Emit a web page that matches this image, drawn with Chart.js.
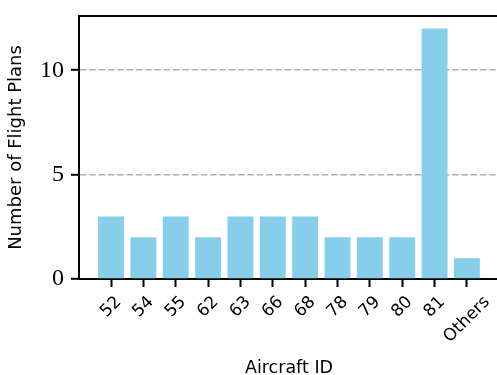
<!DOCTYPE html>
<html>
<head>
<meta charset="utf-8">
<script src="https://cdn.jsdelivr.net/npm/chart.js@4/dist/chart.umd.min.js"></script>
<style>
  html, body { margin: 0; padding: 0; background: #ffffff; }
  canvas { display: block; }
</style>
</head>
<body>
<canvas id="chart" width="497" height="375"></canvas>
<script>
// Flight plans per aircraft
const categories = ['52', '54', '55', '62', '63', '66', '68', '78', '79', '80', '81', 'Others'];
const flightPlans = [3, 2, 3, 2, 3, 3, 3, 2, 2, 2, 12, 1];
const yTicks = [0, 5, 10];
const xTitle = 'Aircraft ID';
const yTitle = 'Number of Flight Plans';

const SANS = '"DejaVu Sans", sans-serif';
const SERIF = '"Liberation Serif", "DejaVu Serif", serif';

// Category positions on a numeric axis so the side margins can be set freely
const points = flightPlans.map((v, i) => ({ x: i, y: v }));

function noPadding(scale) {
  scale.paddingTop = 0;
  scale.paddingBottom = 0;
  scale.paddingLeft = 0;
  scale.paddingRight = 0;
}

const axisText = {
  id: 'axisText',
  afterDraw(chart) {
    const { ctx, chartArea } = chart;
    const xs = chart.scales.x;
    ctx.save();

    // top spine
    ctx.strokeStyle = '#000000';
    ctx.lineWidth = 2;
    ctx.beginPath();
    ctx.moveTo(chartArea.left - 1, chartArea.top);
    ctx.lineTo(chartArea.right, chartArea.top);
    ctx.stroke();

    // rotated category labels, centred under each tick
    ctx.fillStyle = '#000000';
    ctx.font = '17px ' + SANS;
    ctx.textAlign = 'center';
    ctx.textBaseline = 'middle';
    const labelTop = chartArea.bottom + 14;
    const h = 18;
    categories.forEach((name, i) => {
      const w = ctx.measureText(name).width;
      const cx = xs.getPixelForValue(i);
      const cy = labelTop + (w + h) / (2 * Math.SQRT2);
      ctx.save();
      ctx.translate(cx, cy);
      ctx.rotate(-Math.PI / 4);
      ctx.fillText(name, 0, 0);
      ctx.restore();
    });

    // axis titles
    ctx.font = '17.5px ' + SANS;
    ctx.textAlign = 'center';
    ctx.textBaseline = 'alphabetic';
    const xMid = (xs.getPixelForValue(-0.99) + xs.getPixelForValue(11.99)) / 2;
    ctx.fillText(xTitle, xMid, 373);

    ctx.font = '18px ' + SANS;
    ctx.textBaseline = 'middle';
    ctx.save();
    ctx.translate(16.5, (chartArea.top + chartArea.bottom) / 2);
    ctx.rotate(-Math.PI / 2);
    ctx.fillText(yTitle, 0, 0);
    ctx.restore();

    ctx.restore();
  }
};

new Chart(document.getElementById('chart'), {
  type: 'bar',
  data: {
    datasets: [{
      data: points,
      backgroundColor: '#87CEEB',
      borderWidth: 0,
      barPercentage: 0.8,
      categoryPercentage: 1.0
    }]
  },
  options: {
    responsive: false,
    devicePixelRatio: 1,
    animation: false,
    layout: { padding: { top: 16, left: 0, right: 0, bottom: 0 } },
    plugins: {
      legend: { display: false },
      tooltip: { enabled: false }
    },
    scales: {
      x: {
        type: 'linear',
        offset: false,
        min: -0.99,
        max: 11.93,
        afterBuildTicks(scale) {
          scale.ticks = categories.map((_, i) => ({ value: i }));
        },
        afterFit(scale) { scale.height = 96; noPadding(scale); },
        ticks: { display: false },
        grid: {
          offset: false,
          drawOnChartArea: false,
          drawTicks: true,
          tickLength: 8,
          tickColor: '#000000',
          tickWidth: 2
        },
        border: { display: true, color: '#000000', width: 2 }
      },
      y: {
        type: 'linear',
        min: 0,
        max: 12.6,
        afterBuildTicks(scale) {
          scale.ticks = yTicks.map(v => ({ value: v }));
        },
        afterFit(scale) { scale.width = 79; noPadding(scale); },
        ticks: {
          color: '#000000',
          font: { family: SERIF, size: 24 },
          padding: 7,
          callback: v => String(v)
        },
        grid: {
          color: c => (c.tick && c.tick.value === 0 ? 'rgba(0,0,0,0)' : '#b0b0b0'),
          lineWidth: 1.6,
          drawTicks: true,
          tickLength: 8,
          tickColor: '#000000',
          tickWidth: 2
        },
        border: { display: true, color: '#000000', width: 2, dash: [6.5, 2.8] }
      }
    }
  },
  plugins: [axisText]
});
</script>
</body>
</html>
